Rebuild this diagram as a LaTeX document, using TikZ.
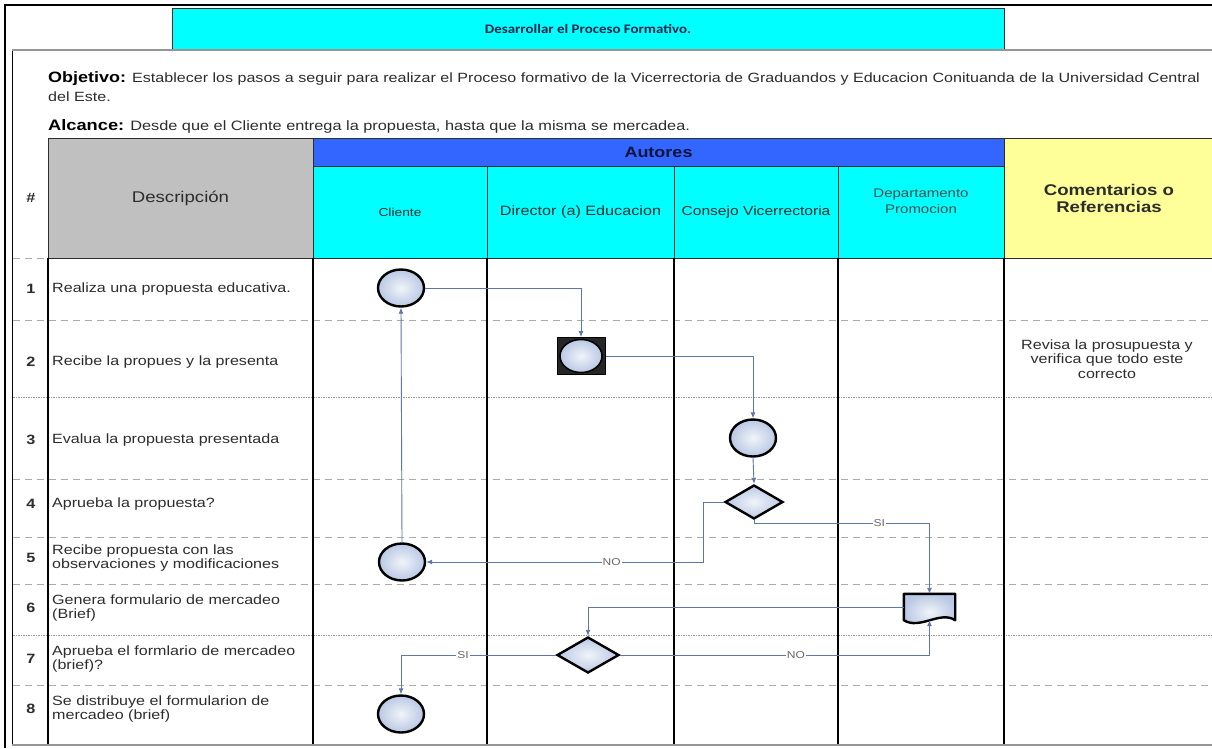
\documentclass[tikz,border=0pt]{standalone}
\usepackage{fontspec}
\setmainfont[FakeStretch=1.2]{Liberation Sans}
\newfontfamily\titlefont[FakeStretch=1.15]{Carlito}
\usetikzlibrary{arrows.meta,shapes.geometric,calc}
\definecolor{lanecyan}{RGB}{0,255,255}
\definecolor{autblue}{RGB}{51,102,255}
\definecolor{descgray}{RGB}{192,192,192}
\definecolor{commyellow}{RGB}{255,255,153}
\definecolor{ink}{RGB}{45,45,45}
\definecolor{flowblue}{RGB}{95,118,168}
\definecolor{shapeblue}{RGB}{185,200,228}
\definecolor{rulegray}{RGB}{150,150,150}
\newcommand{\rowfont}{\fontsize{13.4}{14.5}\selectfont}

\begin{document}
\begin{tikzpicture}[x=1pt, y=-1pt,
    stepcirc/.style={ellipse, draw=black, line width=2.4pt, inner color=shapeblue!20,
                     outer color=shapeblue, minimum width=46pt, minimum height=37pt, inner sep=0pt},
    decide/.style={diamond, draw=black, line width=2.4pt, inner color=shapeblue!20,
                   outer color=shapeblue, minimum width=58pt, minimum height=34pt, inner sep=0pt},
    docbox/.style={rectangle, minimum width=51pt, minimum height=26pt, inner sep=0pt},
    hdr/.style={rectangle, draw=ink, line width=0.8pt, inner sep=0pt, text=ink, align=center},
    lane/.style={hdr, fill=lanecyan, minimum height=92pt, font=\fontsize{11.5}{13}\selectfont},
    flow/.style={-{Latex[length=6pt,width=5pt]}, flowblue, line width=0.9pt},
    lbl/.style={fill=white, inner sep=1pt, text=gray!80!black, font=\fontsize{10}{10}\selectfont},
    rowdash/.style={rulegray!80, dash pattern=on 7pt off 5pt, line width=1pt},
    rowdot/.style={rulegray, dash pattern=on 1.5pt off 1pt, line width=1pt},
    colline/.style={black, line width=1.2pt},
    desctxt/.style={anchor=west, align=left, inner sep=0pt, text=ink, font=\rowfont},
    numtxt/.style={inner sep=0pt, text=ink, font=\fontsize{13.5}{14}\selectfont\bfseries}]
  \useasboundingbox (0,0) rectangle (1212,748);
  \fill[white] (0,0) rectangle (1212,748);
  % frame and title
  \draw[line width=1.5pt] (5,748) -- (5,5) -- (1212,5);
  \draw[line width=0.8pt] (12,50) -- (12,745);
  \node[hdr, fill=lanecyan, minimum width=832pt, minimum height=42pt,
        text={rgb,255:red,25;green,35;blue,70}] (title) at (588,29)
    {\titlefont\fontsize{13}{14}\selectfont\bfseries Desarrollar el Proceso Formativo.};
  \draw[rulegray, line width=2pt] (12,50) -- (1212,50);
  % objective and scope
  \node[anchor=base west, inner sep=0pt, text=ink, font=\fontsize{13.4}{15}\selectfont] (obj) at (48,82)
    {{\fontsize{15}{16}\selectfont\bfseries\color{black}Objetivo:} Establecer los pasos a seguir para realizar el Proceso formativo de la Vicerrectoria de Graduandos y Educacion Conituanda de la Universidad Central};
  \node[anchor=base west, inner sep=0pt, text=ink, font=\fontsize{13.4}{15}\selectfont] (obj2) at (48,101) {del Este.};
  \node[anchor=base west, inner sep=0pt, text=ink, font=\fontsize{13.6}{15}\selectfont] (alc) at (48,130)
    {{\fontsize{15.2}{16}\selectfont\bfseries\color{black}Alcance:} Desde que el Cliente entrega la propuesta, hasta que la misma se mercadea.};
  % header
  \node[numtxt] (hnum) at (31,198) {\#};
  \node[hdr, fill=descgray, minimum width=265pt, minimum height=120pt,
        font=\fontsize{15.5}{17}\selectfont] (desc) at (180.5,198) {Descripción};
  \node[hdr, fill=autblue, minimum width=691pt, minimum height=28pt,
        text={rgb,255:red,10;green,20;blue,60}, font=\fontsize{15}{17}\selectfont\bfseries] (aut) at (658.5,152) {Autores};
  \node[lane, minimum width=174pt] (l1) at (400,212) {Cliente};
  \node[lane, minimum width=187pt, font=\fontsize{13.5}{15}\selectfont] (l2) at (580.5,212) {Director (a) Educacion};
  \node[lane, minimum width=164pt, font=\fontsize{13}{15}\selectfont] (l3) at (756,212) {Consejo Vicerrectoria};
  \node[lane, minimum width=166pt] (l4) at (921,212) {};
  \node[align=center, text=ink!85, font=\fontsize{12.5}{16}\selectfont] (l4t) at ([yshift=11pt]l4.center) {Departamento\\Promocion};
  \node[hdr, fill=commyellow, minimum width=210pt, minimum height=120pt,
        font=\fontsize{15.5}{17}\selectfont\bfseries] (com) at (1109,198) {Comentarios o\\Referencias};
  % grid
  \draw[rowdash] (13,258) -- (48,258);
  \foreach \y in {320,479,537,584,685}
    \draw[rowdash] (13,\y) -- (1212,\y);
  \foreach \y in {397,635}
    \draw[rowdot] (13,\y) -- (1212,\y);
  \foreach \x in {48,313,487,674,838,1004}
    \draw[colline] (\x,258) -- (\x,745);
  \draw[rulegray, line width=2pt] (12,745) -- (1212,745);
  % steps
  \foreach \n/\y/\txt in {1/289/{Realiza una propuesta educativa.},
                          2/362/{Recibe la propues y la presenta},
                          3/440/{Evalua la propuesta presentada},
                          4/504/{Aprueba la propuesta?},
                          5/558/{Recibe propuesta con las\\observaciones y modificaciones},
                          6/608/{Genera formulario de mercadeo\\(Brief)},
                          7/659/{Aprueba el formlario de mercadeo\\(brief)?},
                          8/709/{Se distribuye el formularion de\\mercadeo (brief)}}{
    \node[numtxt] (n\n) at (31,\y) {\n};
    \node[desctxt] (t\n) at (52,\y) {\txt};
  }
  \node[align=center, text=ink, font=\rowfont] (cm2) at (1107,359)
    {Revisa la prosupuesta y\\verifica que todo este\\correcto};
  % flow shapes
  \node[stepcirc] (c1) at (401,288) {};
  \node[rectangle, fill=black!85, draw=black, line width=1pt, minimum width=48pt,
        minimum height=37pt, inner sep=0pt] (s2) at (581,356) {};
  \node[stepcirc, minimum width=42pt, minimum height=33pt, line width=1.5pt] (s2c) at (s2) {};
  \node[stepcirc] (c3) at (753,438) {};
  \node[decide] (d4) at (754,502) {};
  \node[stepcirc] (c5) at (402,562) {};
  \node[docbox] (f6) at (929.5,607) {};
  \draw[black, line width=2.4pt, line join=round, inner color=shapeblue!20, outer color=shapeblue]
    (f6.north west) -- (f6.north east) -- (f6.south east)
    .. controls ($(f6.south east)+(-15,-10)$) and ($(f6.south west)+(16,10)$) .. (f6.south west) -- cycle;
  \node[decide, minimum width=62pt, minimum height=36pt] (d7) at (588,655) {};
  \node[stepcirc] (c8) at (401,714) {};
  % connectors
  \coordinate (k4) at (703,562);
  \coordinate (k4s) at (840,523);
  \draw[flow] (c1.east) -| (s2.north);
  \draw[flow] (s2.east) -| (c3.north);
  \draw[flow] (c3.south) -- (d4.north);
  \draw[flow] (d4.west) -| (k4) -- node[lbl, pos=0.33] {NO} (c5.east);
  \draw[flow] (d4.south) |- (k4s) -| node[lbl, pos=0.22] {SI} (f6.north);
  \draw[flow] (c5.north) -- (c1.south);
  \draw[flow] (f6.west) -| (d7.north);
  \draw[flow] (d7.east) -| node[lbl, pos=0.284] {NO} (f6.south);
  \draw[flow] (d7.west) -| node[lbl, pos=0.3] {SI} (c8.north);
\end{tikzpicture}
\end{document}
